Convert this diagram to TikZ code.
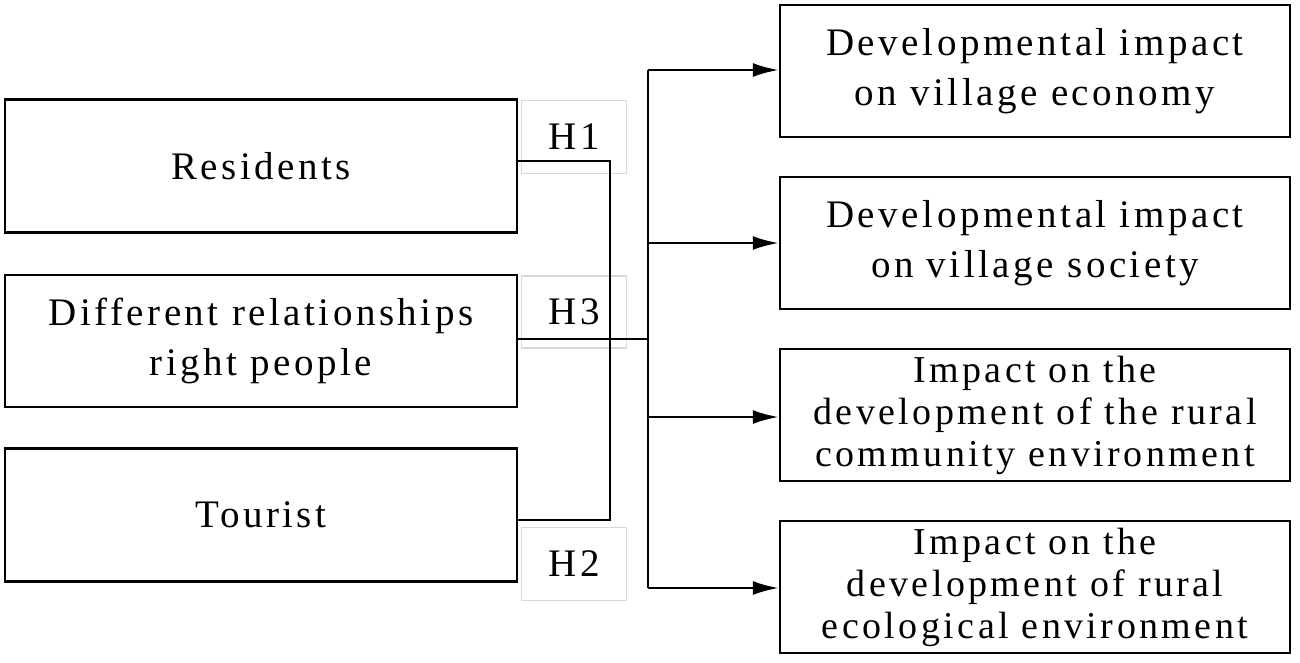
\documentclass[tikz,border=0pt]{standalone}
\usepackage{fontspec}
\usetikzlibrary{arrows.meta}
\setmainfont[LetterSpace=9]{Liberation Serif}
\begin{document}
\begin{tikzpicture}[x=1pt,y=-1pt,
 bx/.style={draw,line width=2.5pt,inner sep=0,align=center,font=\fontsize{39}{50}\selectfont},
 hb/.style={draw=black!15,line width=1.2pt,inner sep=0,font=\fontsize{39}{46}\selectfont},
 ln/.style={line width=2.5pt},
 ar/.style={line width=2.5pt,-{Latex[length=26pt,width=14pt]}}]
\useasboundingbox (0,0) rectangle (1300,662);
\node[bx,minimum width=512,minimum height=133] (r) at (261,166) {Residents};
\node[bx,minimum width=512,minimum height=132] (d) at (261,341) {Different relationships\\right people};
\node[bx,minimum width=512,minimum height=133] (t) at (261,515) {Tourist};
\node[hb,minimum width=105,minimum height=73] (h1) at (574,137) {H1};
\node[hb,minimum width=105,minimum height=72] (h3) at (574,312) {H3};
\node[hb,minimum width=105,minimum height=73] (h2) at (574,564) {H2};
\node[bx,minimum width=510,minimum height=132] (o1) at (1035,71) {Developmental impact\\on village economy};
\node[bx,minimum width=510,minimum height=132] (o2) at (1035,243) {Developmental impact\\on village society};
\node[bx,minimum width=510,minimum height=132,font=\fontsize{38}{42}\selectfont] (o3) at (1035,415) {Impact on the\\development of the rural\\community environment};
\node[bx,minimum width=510,minimum height=132,font=\fontsize{38}{42}\selectfont] (o4) at (1035,587) {Impact on the\\development of rural\\ecological environment};
\coordinate (j) at (648,339);
\draw[ln] (r.east |- 0,161) -| (610,520) -- (t.east |- 0,520);
\draw[ln] (d.east |- 0,339) -- (j);
\draw[ln] (648,70) -- (648,588);
\draw[ar] (648,70) -- (o1.west |- 0,70);
\draw[ar] (648,243) -- (o2.west |- 0,243);
\draw[ar] (648,417) -- (o3.west |- 0,417);
\draw[ar] (648,588) -- (o4.west |- 0,588);
\end{tikzpicture}
\end{document}
